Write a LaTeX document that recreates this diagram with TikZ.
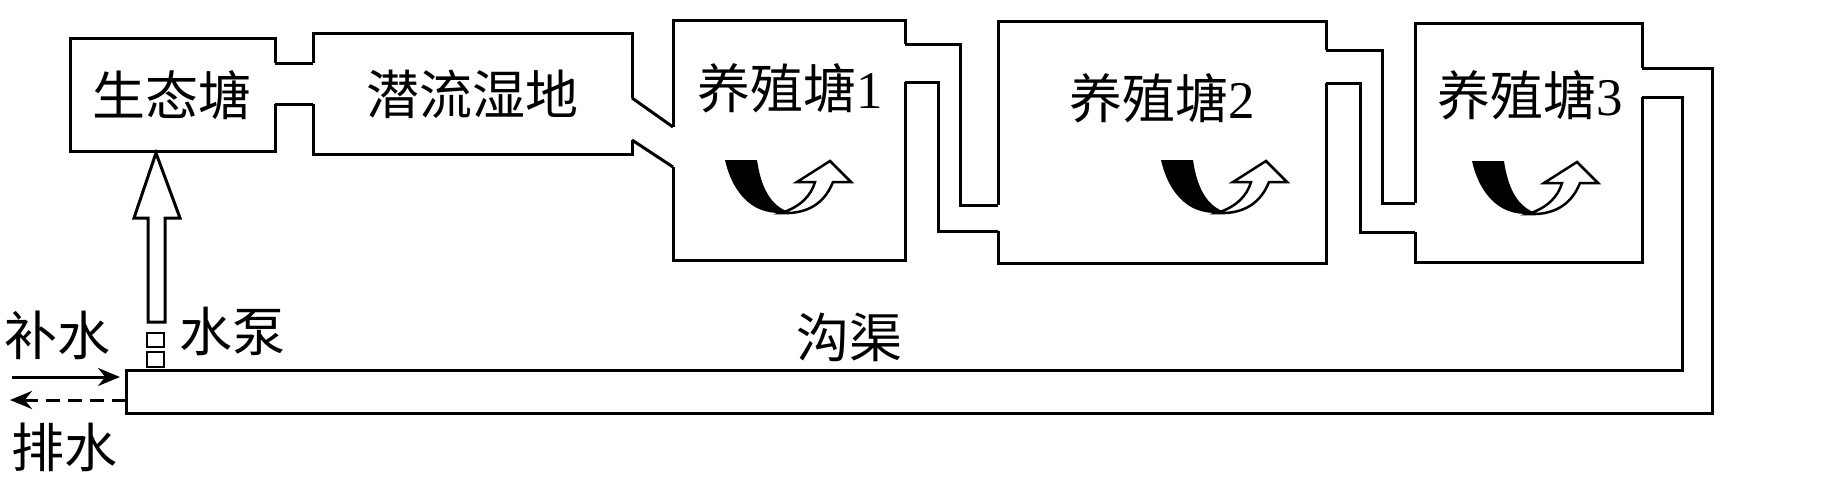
\documentclass[tikz,border=0pt]{standalone}
\usepackage{fontspec}
\setmainfont{Liberation Serif}
\newfontfamily\cjk{Noto Sans CJK SC}
\usetikzlibrary{arrows.meta}
\tikzset{
  wall/.style={line width=3pt, line join=miter},
  lbl/.style={font=\fontsize{53}{56}\selectfont, inner sep=0pt},
  flow/.style={line width=3pt, -{Stealth[length=22pt,width=18pt]}},
}
\newcommand{\swirl}[2]{%
  \begin{scope}[shift={(#1,#2)}]
    \fill (0,0) -- (32,0) .. controls (36,28) and (46,46) .. (64,52)
      .. controls (30,58) and (8,35) .. (0,0) -- cycle;
    \draw[line width=2.5pt, fill=white, line join=miter] (56,53) .. controls (75,47) and (86,36) .. (90,22)
      -- (72,22) -- (105,1) -- (126,22) -- (108,22)
      .. controls (100,42) and (85,52) .. (64,53) -- cycle;
  \end{scope}}
\begin{document}
\begin{tikzpicture}[x=1pt,y=-1pt]
\useasboundingbox (0,0) rectangle (1824,488);
% eco pond
\draw[wall] (275,63) -- (275,38) -- (70,38) -- (70,151) -- (275,151) -- (275,104);
\draw[wall] (275,63) -- (313,63) (275,104) -- (313,104);
% wetland
\draw[wall] (313,63) -- (313,33) -- (632,33) -- (632,98);
\draw[wall] (632,140) -- (632,154) -- (313,154) -- (313,104);
\draw[wall] (632,98) -- (673,127) (632,140) -- (673,167);
% pond 1
\draw[wall] (673,127) -- (673,20) -- (905,20) -- (905,44);
\draw[wall] (905,82) -- (905,260) -- (673,260) -- (673,167);
\draw[wall] (905,44) -- (960,44) -- (960,205) -- (998,205);
\draw[wall] (905,82) -- (938,82) -- (938,231) -- (998,231);
% pond 2
\draw[wall] (998,205) -- (998,21) -- (1326,21) -- (1326,50);
\draw[wall] (1326,83) -- (1326,263) -- (998,263) -- (998,231);
\draw[wall] (1326,50) -- (1382,50) -- (1382,203) -- (1415,203);
\draw[wall] (1326,83) -- (1360,83) -- (1360,232) -- (1415,232);
% pond 3
\draw[wall] (1415,203) -- (1415,23) -- (1642,23) -- (1642,68);
\draw[wall] (1642,97) -- (1642,262) -- (1415,262) -- (1415,232);
% ditch
\draw[wall] (1642,68) -- (1712,68) -- (1712,413) -- (126,413) -- (126,370) -- (1682,370) -- (1682,97) -- (1642,97);
% labels
\node[lbl] (eco) at (172,95) {\cjk 生态塘};
\node[lbl] (wet) at (472,94) {\cjk 潜流湿地};
\node[lbl] (p1) at (790,88) {{\cjk 养殖塘}1};
\node[lbl] (p2) at (1162,98) {{\cjk 养殖塘}2};
\node[lbl] (p3) at (1530,95) {{\cjk 养殖塘}3};
\node[lbl] (ditch) at (849,337) {\cjk 沟渠};
\node[lbl] (pump) at (232,331) {\cjk 水泵};
\node[lbl] (in) at (58,335) {\cjk 补水};
\node[lbl] (out) at (65,447) {\cjk 排水};
% swirls
\swirl{725}{160}
\swirl{1161}{160}
\swirl{1472}{161}
% pump
\draw[line width=2.5pt] (147,333) rectangle (164,347);
\draw[line width=2.5pt] (147,352) rectangle (164,367);
\draw[line width=3pt, line join=miter] (148,322) -- (148,218) -- (134,218) -- (156,153) -- (180,218) -- (165,218) -- (165,322) -- cycle;
% in/out flows
\coordinate (inA) at (12,377);
\coordinate (inB) at (120,377);
\coordinate (outA) at (126,400);
\coordinate (outB) at (10,400);
\draw[flow] (inA) -- (inB);
\draw[flow, dash pattern=on 14pt off 8pt] (outA) -- (outB);
\end{tikzpicture}
\end{document}
